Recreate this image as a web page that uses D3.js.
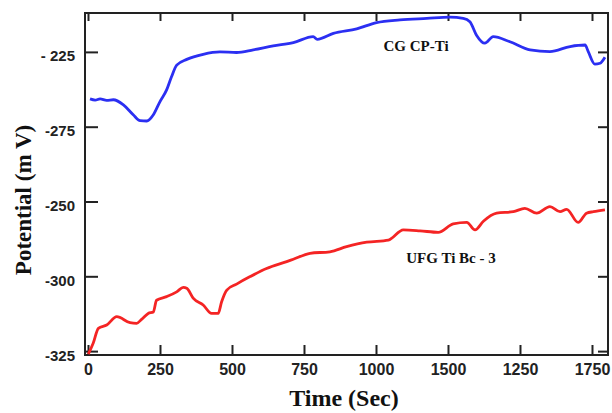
<!DOCTYPE html>
<html>
<head>
<meta charset="utf-8">
<script src="https://cdn.jsdelivr.net/npm/d3@7"></script>
<style>
  body { margin: 0; background: #fff; }
  svg { display: block; }
</style>
</head>
<body>
<div id="chart"></div>
<script>
// datos
const cgTime = [7, 25, 42, 65, 88, 123, 157, 181, 204, 227, 250, 273, 290, 308, 343, 400, 458, 516, 574, 643, 713, 782, 796, 852, 933, 1002, 1083, 1176, 1257, 1303, 1326, 1349, 1378, 1407, 1465, 1535, 1604, 1674, 1726, 1737, 1760, 1778, 1795]
const cgPot = [-240.7, -241.1, -240.7, -241.2, -241, -242.7, -246, -248, -248.1, -246, -241.6, -237.7, -233.3, -229.4, -227.5, -225.8, -225, -225.2, -224.3, -223, -221.9, -219.9, -220.8, -218.8, -217.3, -215.2, -214.3, -213.8, -213.4, -213.8, -214.9, -219.4, -222.1, -219.9, -221.6, -224.3, -224.9, -223.2, -222.7, -224.9, -229.1, -228.8, -226.8]

const ufgTime = [1, 18, 36, 65, 100, 146, 169, 186, 209, 227, 238, 273, 308, 331, 343, 366, 400, 429, 452, 464, 482, 516, 563, 620, 690, 713, 771, 840, 898, 968, 1043, 1095, 1153, 1216, 1268, 1315, 1344, 1373, 1419, 1477, 1517, 1558, 1604, 1639, 1662, 1702, 1731, 1755, 1795]
const ufgPot = [-326, -322.4, -317.4, -316.3, -313.5, -315.5, -315.7, -314.4, -312.4, -311.9, -308, -306.8, -305.2, -303.7, -304, -307.4, -309.6, -312.4, -312.4, -308.5, -304.6, -302.6, -300.1, -297.4, -295.1, -294.3, -292.3, -291.8, -290.1, -288.6, -287.9, -284.5, -284.8, -285.3, -282.5, -282, -284.5, -281.6, -278.9, -278.4, -277.3, -278.9, -276.7, -278.4, -277.6, -282, -278.9, -278.4, -277.8]

// ticks (las etiquetas son tal cual aparecen en la figura)
const xTicks = [0, 250, 500, 750, 1000, 1250, 1500, 1750]
const xTickLabels = ["0", "250", "500", "750", "1000", "1500", "1250", "1750"]
const yTicks = [-325, -300, -275, -250, -225]
const yTickLabels = ["-325", "-300", "-250", "-275", "- 225"]

const width = 612
const height = 413
const frame = { left: 85, right: 608, top: 13, bottom: 355 }

const svg = d3.select("div#chart").append("svg").attr("width", width).attr("height", height)

// escalas
const x = d3.scaleLinear().domain([-10.4, 1805.6]).range([frame.left, frame.right])
const y = d3.scaleLinear().domain([-326.3, -212.0]).range([frame.bottom, frame.top])

// ejes
const tickColor = "#222"
const xAxisBottom = d3.axisBottom(x).tickValues(xTicks).tickSize(-10).tickPadding(9)
    .tickFormat((d, i) => xTickLabels[i])
const xAxisTop = d3.axisTop(x).tickValues(xTicks).tickSize(-8).tickFormat("")
const yAxisLeft = d3.axisLeft(y).tickValues(yTicks).tickSize(-13).tickPadding(10)
    .tickFormat((d, i) => yTickLabels[i])
const yAxisRight = d3.axisRight(y).tickValues(yTicks).tickSize(-10).tickFormat("")

function styleAxis(g, size) {
    g.select(".domain").remove()
    g.selectAll(".tick line").attr("stroke", tickColor).attr("stroke-width", 2)
    g.selectAll(".tick text")
        .attr("fill", "#222")
        .attr("font-family", "'Liberation Sans', Arial, sans-serif")
        .attr("font-weight", "bold")
        .attr("font-size", size)
}

svg.append("g").attr("transform", `translate(0, ${frame.bottom})`).call(xAxisBottom).call(styleAxis, 16)
svg.append("g").attr("transform", `translate(0, ${frame.top})`).call(xAxisTop).call(styleAxis, 16)
const yg = svg.append("g").attr("transform", `translate(${frame.left}, 0)`).call(yAxisLeft).call(styleAxis, 15)
yg.selectAll(".tick text").attr("dy", "0.6em")
svg.append("g").attr("transform", `translate(${frame.right}, 0)`).call(yAxisRight).call(styleAxis, 15)

// marco
svg.append("rect")
    .attr("x", frame.left).attr("y", frame.top)
    .attr("width", frame.right - frame.left).attr("height", frame.bottom - frame.top)
    .attr("fill", "none").attr("stroke", tickColor).attr("stroke-width", 2)

// líneas
const line = d3.line().x(d => x(d[0])).y(d => y(d[1])).curve(d3.curveMonotoneX)

svg.append("path")
    .datum(cgTime.map((t, i) => [t, cgPot[i]]))
    .attr("d", line).attr("fill", "none")
    .attr("stroke", "#2b2ff2").attr("stroke-width", 2.8).attr("stroke-linejoin", "round")

svg.append("path")
    .datum(ufgTime.map((t, i) => [t, ufgPot[i]]))
    .attr("d", line).attr("fill", "none")
    .attr("stroke", "#f42424").attr("stroke-width", 2.8).attr("stroke-linejoin", "round")

// textos
const serif = "'Liberation Serif', 'Times New Roman', serif"

svg.append("text").text("CG CP-Ti")
    .attr("x", 416).attr("y", 51).attr("text-anchor", "middle")
    .attr("font-family", serif).attr("font-weight", "bold").attr("font-size", 15).attr("fill", "#111")

svg.append("text").text("UFG Ti Bc - 3")
    .attr("x", 451).attr("y", 263).attr("text-anchor", "middle")
    .attr("font-family", serif).attr("font-weight", "bold").attr("font-size", 15).attr("fill", "#111")

svg.append("text").text("Time (Sec)")
    .attr("x", 344).attr("y", 406).attr("text-anchor", "middle")
    .attr("font-family", serif).attr("font-weight", "bold").attr("font-size", 24).attr("fill", "#111")

svg.append("text").text("Potential (m V)")
    .attr("transform", "translate(31, 200) rotate(-90)").attr("text-anchor", "middle")
    .attr("font-family", serif).attr("font-weight", "bold").attr("font-size", 23).attr("fill", "#111")
</script>
</body>
</html>
